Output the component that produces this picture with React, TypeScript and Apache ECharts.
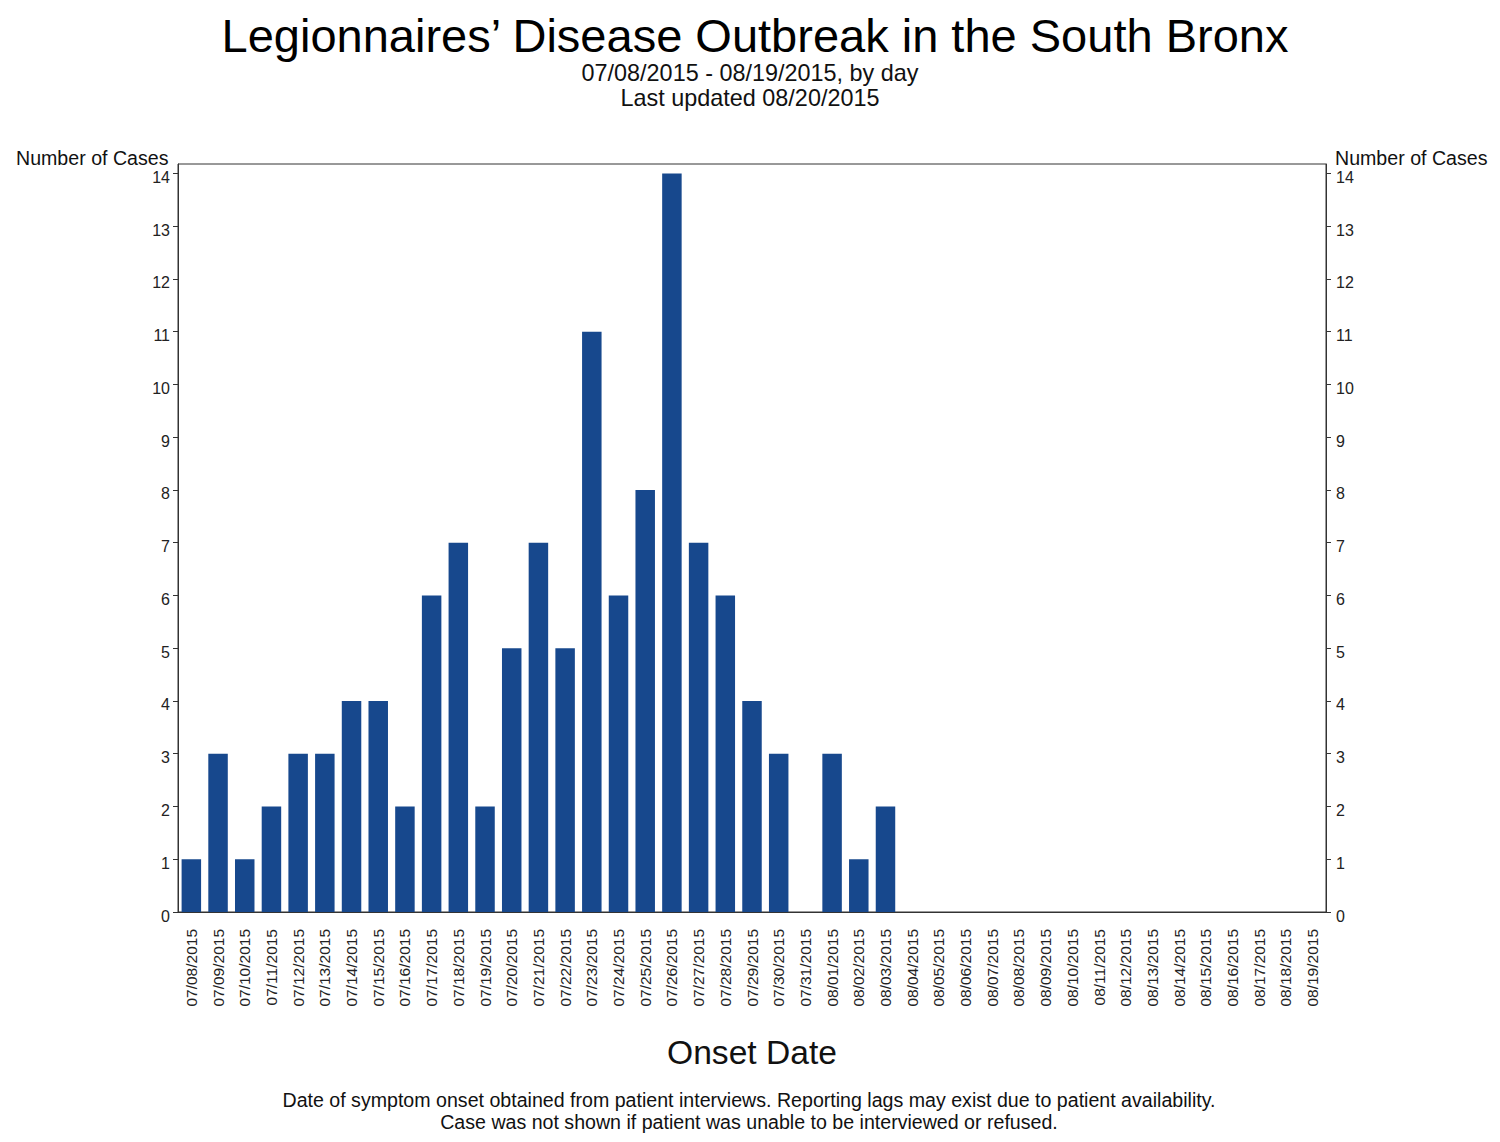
import React, { useEffect, useRef } from "react";
import * as echarts from "echarts";

const dates = [
  "07/08/2015","07/09/2015","07/10/2015","07/11/2015","07/12/2015","07/13/2015","07/14/2015","07/15/2015",
  "07/16/2015","07/17/2015","07/18/2015","07/19/2015","07/20/2015","07/21/2015","07/22/2015","07/23/2015",
  "07/24/2015","07/25/2015","07/26/2015","07/27/2015","07/28/2015","07/29/2015","07/30/2015","07/31/2015",
  "08/01/2015","08/02/2015","08/03/2015","08/04/2015","08/05/2015","08/06/2015","08/07/2015","08/08/2015",
  "08/09/2015","08/10/2015","08/11/2015","08/12/2015","08/13/2015","08/14/2015","08/15/2015","08/16/2015",
  "08/17/2015","08/18/2015","08/19/2015",
];
const cases = [
  1, 3, 1, 2, 3, 3, 4, 4,
  2, 6, 7, 2, 5, 7, 5, 11,
  6, 8, 14, 7, 6, 4, 3, 0,
  3, 1, 2, 0, 0, 0, 0, 0,
  0, 0, 0, 0, 0, 0, 0, 0,
  0, 0, 0,
];
const yTicks = [0, 1, 2, 3, 4, 5, 6, 7, 8, 9, 10, 11, 12, 13, 14];

const title = "Legionnaires\u2019 Disease Outbreak in the South Bronx";
const subtitle1 = "07/08/2015 - 08/19/2015, by day";
const subtitle2 = "Last updated 08/20/2015";
const yName = "Number of Cases";
const xName = "Onset Date";
const note1 = "Date of symptom onset obtained from patient interviews. Reporting lags may exist due to patient availability.";
const note2 = "Case was not shown if patient was unable to be interviewed or refused.";

const FONT = "Liberation Sans, Arial, sans-serif";

export default function App() {
  const ref = useRef<HTMLDivElement>(null);
  useEffect(() => {
    if (!ref.current) return;
    const chart = echarts.init(ref.current, undefined, { renderer: "svg" });
    const yAxisBase = (pos: "left" | "right") => ({
      type: "value" as const,
      position: pos,
      min: 0,
      max: 14.18,
      interval: 1,
      splitLine: { show: false },
      axisLine: { show: true, lineStyle: { color: "#333", width: 1 } },
      axisTick: { show: true, length: 5, lineStyle: { color: "#333" }, customValues: yTicks },
      axisLabel: {
        color: "#222",
        fontSize: 16,
        fontFamily: FONT,
        margin: pos === "left" ? 8 : 10,
        verticalAlign: "top",
        lineHeight: 8,
        customValues: yTicks,
      },
    });
    chart.setOption({
      animation: false,
      backgroundColor: "#fff",
      grid: {
        left: 178,
        right: 174,
        top: 164,
        height: 748,
        show: true,
        borderColor: "#333",
        borderWidth: 1,
        containLabel: false,
      },
      xAxis: {
        type: "category",
        data: dates,
        axisLine: { show: true, lineStyle: { color: "#333" } },
        axisTick: { show: false },
        axisLabel: {
          rotate: 90,
          interval: 0,
          color: "#222",
          fontSize: 15.5,
          fontFamily: FONT,
          margin: 17,
        },
      },
      yAxis: [yAxisBase("left"), yAxisBase("right")],
      series: [
        {
          type: "bar",
          data: cases,
          barCategoryGap: "27%",
          itemStyle: { color: "#17488D" },
          yAxisIndex: 0,
        },
      ],
      graphic: [
        { type: "text", x: 755, y: 35, style: { text: title, font: `47px ${FONT}`, fill: "#000", align: "center", verticalAlign: "middle" } },
        { type: "text", x: 750, y: 73, style: { text: subtitle1, font: `23.4px ${FONT}`, fill: "#111", align: "center", verticalAlign: "middle" } },
        { type: "text", x: 750, y: 98, style: { text: subtitle2, font: `23.4px ${FONT}`, fill: "#111", align: "center", verticalAlign: "middle" } },
        { type: "text", x: 16, y: 158, style: { text: yName, font: `19.6px ${FONT}`, fill: "#111", align: "left", verticalAlign: "middle" } },
        { type: "text", x: 1335, y: 158, style: { text: yName, font: `19.6px ${FONT}`, fill: "#111", align: "left", verticalAlign: "middle" } },
        { type: "text", x: 752, y: 1052, style: { text: xName, font: `33.6px ${FONT}`, fill: "#111", align: "center", verticalAlign: "middle" } },
        { type: "text", x: 749, y: 1100, style: { text: note1, font: `19.6px ${FONT}`, fill: "#111", align: "center", verticalAlign: "middle" } },
        { type: "text", x: 749, y: 1122, style: { text: note2, font: `19.6px ${FONT}`, fill: "#111", align: "center", verticalAlign: "middle" } },
      ],
    });
    return () => chart.dispose();
  }, []);
  return (
    <div
      ref={ref}
      style={{ position: "absolute", left: 0, top: 0, width: 1500, height: 1142, background: "#fff" }}
    />
  );
}
